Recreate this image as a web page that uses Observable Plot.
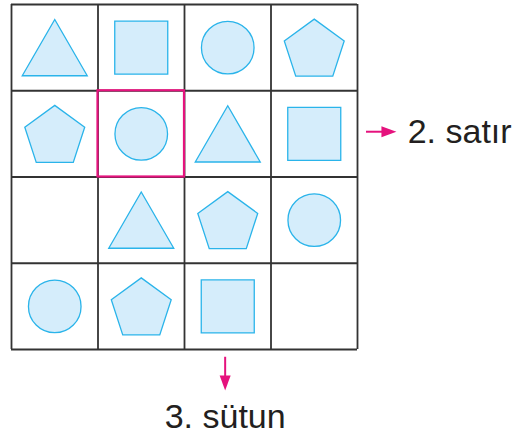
<!DOCTYPE html>
<html>
<head>
<meta charset="utf-8">
<script src="https://cdn.jsdelivr.net/npm/d3@7"></script>
<script src="https://cdn.jsdelivr.net/npm/@observablehq/plot@0.6"></script>
<style>
  html, body { margin: 0; padding: 0; background: #fff; }
</style>
</head>
<body>
<div id="chart"></div>
<script>
// Grid contents, row by row (empty string = empty cell)
const row1 = ["triangle", "square", "circle", "pentagon"];
const row2 = ["pentagon", "circle", "triangle", "square"];
const row3 = ["", "triangle", "pentagon", "circle"];
const row4 = ["circle", "pentagon", "square", ""];
const rows = [row1, row2, row3, row4];

// Highlighted cell (0-based column, row)
const highlightCol = 1;
const highlightRow = 1;

// Annotations
const rowLabel = "2. satır";   // points at row index 1
const colLabel = "3. sütun";   // points at column index 2
const gridLines = [0, 1, 2, 3, 4];

const cells = rows.flatMap((r, i) => r.map((shape, j) => ({col: j, row: i, shape})))
  .filter(d => d.shape !== "");

const radius = size => Math.sqrt(size / Math.PI);

const triangleSym = {
  draw(ctx, size) {
    const r = radius(size), h = r * Math.sqrt(3);
    ctx.moveTo(0, -h / 2);
    ctx.lineTo(r, h / 2);
    ctx.lineTo(-r, h / 2);
    ctx.closePath();
  }
};
const squareSym = {
  draw(ctx, size) {
    const r = radius(size);
    ctx.rect(-r, -r, 2 * r, 2 * r);
  }
};
const pentagonSym = {
  draw(ctx, size) {
    const R = radius(size);
    const dy = R * (1 - (1 + Math.cos(Math.PI / 5)) / 2);
    for (let k = 0; k < 5; k++) {
      const a = -Math.PI / 2 + k * 2 * Math.PI / 5;
      const px = R * Math.cos(a), py = R * Math.sin(a) + dy;
      if (k === 0) ctx.moveTo(px, py); else ctx.lineTo(px, py);
    }
    ctx.closePath();
  }
};
const headSym = {
  draw(ctx, size) {
    const r = radius(size);
    ctx.moveTo(0, 0);
    ctx.lineTo(r * 0.55, r * 1.5);
    ctx.lineTo(-r * 0.55, r * 1.5);
    ctx.closePath();
  }
};

const fillC = "#d5edfb", strokeC = "#2ab4ea", magenta = "#e5127d", ink = "#231f20";
const shapeStyle = {x: d => d.col + 0.5, y: d => d.row + 0.5, fill: fillC, stroke: strokeC, strokeWidth: 1.3};

const chart = Plot.plot({
  width: 518,
  height: 437,
  margin: 0,
  x: {domain: [0, 4], range: [11, 357], axis: null},
  y: {domain: [0, 4], range: [4, 349], axis: null},
  style: {background: "#fff"},
  marks: [
    Plot.ruleX(gridLines, {y1: 0, y2: 4, stroke: "#333", strokeWidth: 1.8}),
    Plot.ruleY(gridLines, {x1: 0, x2: 4, stroke: "#333", strokeWidth: 1.8}),
    Plot.dot(cells.filter(d => d.shape === "triangle"), {...shapeStyle, symbol: triangleSym, r: 32.5}),
    Plot.dot(cells.filter(d => d.shape === "square"), {...shapeStyle, symbol: squareSym, r: 26.5}),
    Plot.dot(cells.filter(d => d.shape === "pentagon"), {...shapeStyle, symbol: pentagonSym, r: 31.5}),
    Plot.dot(cells.filter(d => d.shape === "circle"), {...shapeStyle, symbol: "circle", r: 26.3}),
    Plot.rect([{col: highlightCol, row: highlightRow}], {
      x1: d => d.col, x2: d => d.col + 1, y1: d => d.row, y2: d => d.row + 1,
      fill: "none", stroke: magenta, strokeWidth: 2.2
    }),
    // row arrow
    Plot.ruleY([1.475], {x1: 4.104, x2: 4.33, stroke: magenta, strokeWidth: 2}),
    Plot.dot([{x: 4.45, y: 1.475}], {x: "x", y: "y", symbol: headSym, r: 10, rotate: 90, fill: magenta, stroke: "none"}),
    Plot.text([rowLabel], {x: 4.58, y: 1.475, text: d => d, textAnchor: "start", fontSize: 34, fill: ink, fontFamily: "Liberation Sans"}),
    // column arrow
    Plot.ruleX([2.47], {y1: 4.09, y2: 4.33, stroke: magenta, strokeWidth: 2}),
    Plot.dot([{x: 2.47, y: 4.475}], {x: "x", y: "y", symbol: headSym, r: 10, rotate: 180, fill: magenta, stroke: "none"}),
    Plot.text([colLabel], {x: 2.47, y: 4.786, text: d => d, textAnchor: "middle", fontSize: 34, fill: ink, fontFamily: "Liberation Sans"})
  ]
});
document.getElementById("chart").appendChild(chart);
</script>
</body>
</html>
